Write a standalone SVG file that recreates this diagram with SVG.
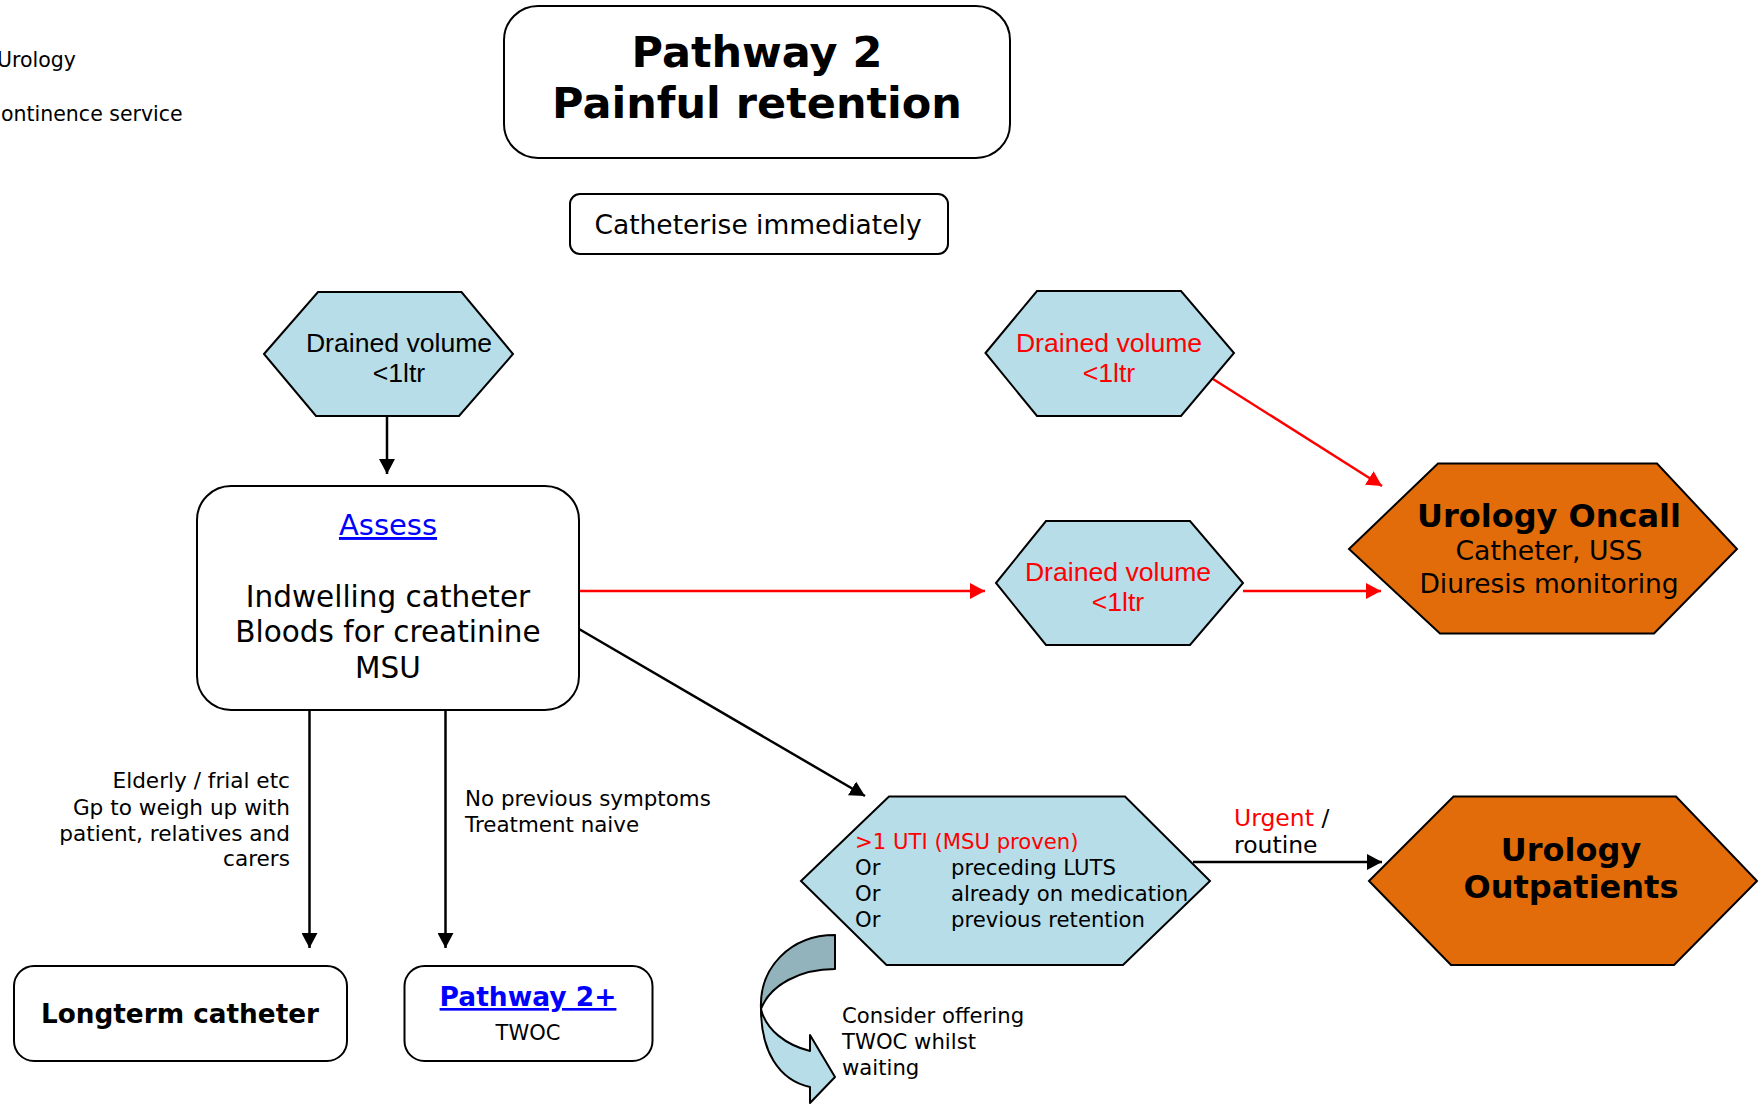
<svg xmlns="http://www.w3.org/2000/svg" width="1764" height="1104" viewBox="0 0 1764 1104">
  <style>
    .box { fill: #ffffff; stroke: #000000; stroke-width: 2; }
    .hex { fill: #B7DDE8; stroke: #000000; stroke-width: 2; stroke-linejoin: miter; }
    .hex-or { fill: #E36C0A; stroke: #000000; stroke-width: 2; }
    .v { font-family: "DejaVu Sans", Verdana, sans-serif; fill: #000000; }
    .a { font-family: "Liberation Sans", Arial, sans-serif; fill: #000000; }
    .b { font-weight: bold; }
    .red { fill: #FF0000; }
    .link { fill: #0000FF; text-decoration: underline; }
    .mid { text-anchor: middle; }
    .end { text-anchor: end; }
    .k { stroke: #000000; stroke-width: 2.5; fill: none; }
    .r { stroke: #FF0000; stroke-width: 2.5; fill: none; }
  </style>
  <defs>
    <marker id="ah-k" markerUnits="userSpaceOnUse" markerWidth="15" markerHeight="16" refX="15" refY="8" orient="auto">
      <path d="M0,0 L15,8 L0,16 Z" fill="#000000"/>
    </marker>
    <marker id="ah-r" markerUnits="userSpaceOnUse" markerWidth="15" markerHeight="16" refX="15" refY="8" orient="auto">
      <path d="M0,0 L15,8 L0,16 Z" fill="#FF0000"/>
    </marker>
  </defs>

  <rect width="1764" height="1104" fill="#ffffff"/>

  <!-- service labels at the left edge -->
  <g id="services">
    <text class="v" x="-3" y="67" font-size="20.5">Urology</text>
    <text class="v" x="1" y="121" font-size="20.5">ontinence service</text>
  </g>

  <!-- connectors -->
  <g id="connectors">
    <line class="k" x1="387" y1="416" x2="387" y2="474" marker-end="url(#ah-k)"/>
    <line class="r" x1="579" y1="591" x2="985" y2="591" marker-end="url(#ah-r)"/>
    <line class="r" x1="1213" y1="379" x2="1382" y2="486" marker-end="url(#ah-r)"/>
    <line class="r" x1="1243" y1="591" x2="1381" y2="591" marker-end="url(#ah-r)"/>
    <line class="k" x1="579" y1="629" x2="865" y2="796" marker-end="url(#ah-k)"/>
    <line class="k" x1="1193" y1="862" x2="1382" y2="862" marker-end="url(#ah-k)"/>
    <line class="k" x1="309.5" y1="710" x2="309.5" y2="948" marker-end="url(#ah-k)"/>
    <line class="k" x1="445.5" y1="710" x2="445.5" y2="948" marker-end="url(#ah-k)"/>
  </g>

  <!-- connector labels -->
  <g id="labels">
    <text class="v end" x="290" y="788" font-size="21.6">Elderly / frial etc</text>
    <text class="v end" x="290" y="814.5" font-size="21.6">Gp to weigh up with</text>
    <text class="v end" x="290" y="840.5" font-size="21.6">patient, relatives and</text>
    <text class="v end" x="290" y="866" font-size="21.6">carers</text>
    <text class="v" x="465" y="806" font-size="21.4">No previous symptoms</text>
    <text class="v" x="465" y="831.5" font-size="21.4">Treatment naive</text>
    <text class="v" x="1234" y="826" font-size="23.5"><tspan class="red">Urgent</tspan> /</text>
    <text class="v" x="1234" y="853" font-size="23.5">routine</text>
  </g>

  <g id="title">
    <rect class="box" x="504" y="6" width="506" height="152" rx="34" ry="34"/>
    <text class="v b mid" x="757" y="67" font-size="43">Pathway 2</text>
    <text class="v b mid" x="757" y="118" font-size="43">Painful retention</text>
  </g>

  <g id="catheterise">
    <rect class="box" x="570" y="194" width="378" height="60" rx="10" ry="10"/>
    <text class="v mid" x="758" y="234" font-size="26.5">Catheterise immediately</text>
  </g>

  <g id="drained-left">
    <polygon class="hex" points="264,354 318,292 461.5,292 513,354 459,416 316,416"/>
    <text class="a mid" x="399" y="352" font-size="26.6">Drained volume</text>
    <text class="a mid" x="399" y="382" font-size="26.6">&lt;1ltr</text>
  </g>

  <g id="assess">
    <rect class="box" x="197" y="486" width="382" height="224" rx="34" ry="34"/>
    <text class="v mid link" x="388" y="535" font-size="29">Assess</text>
    <text class="v mid" x="388" y="607" font-size="29.5">Indwelling catheter</text>
    <text class="v mid" x="388" y="642" font-size="29.5">Bloods for creatinine</text>
    <text class="v mid" x="388" y="678" font-size="29.5">MSU</text>
  </g>

  <g id="drained-upper">
    <polygon class="hex" points="985.5,353 1037,291 1181,291 1234,353 1181,416 1037,416"/>
    <text class="a mid red" x="1109" y="352" font-size="26.6">Drained volume</text>
    <text class="a mid red" x="1109" y="382" font-size="26.6">&lt;1ltr</text>
  </g>

  <g id="drained-middle">
    <polygon class="hex" points="996,583 1046,521 1190,521 1243,583 1190,645 1046,645"/>
    <text class="a mid red" x="1118" y="581" font-size="26.6">Drained volume</text>
    <text class="a mid red" x="1118" y="611" font-size="26.6">&lt;1ltr</text>
  </g>

  <g id="oncall">
    <polygon class="hex-or" points="1349,549 1438,463.5 1657,463.5 1737,549 1654,633.5 1440,633.5"/>
    <text class="v b mid" x="1549" y="527" font-size="32">Urology Oncall</text>
    <text class="v mid" x="1549" y="560" font-size="26.7">Catheter, USS</text>
    <text class="v mid" x="1549" y="593" font-size="26.5">Diuresis monitoring</text>
  </g>

  <g id="uti">
    <polygon class="hex" points="801,881 889,796.5 1125,796.5 1210,881 1123,965 886.5,965"/>
    <text class="v red" x="855" y="849" font-size="21.2">&gt;1 UTI (MSU proven)</text>
    <text class="v" x="855" y="875" font-size="21.2">Or</text>
    <text class="v" x="951" y="875" font-size="21.2">preceding LUTS</text>
    <text class="v" x="855" y="901" font-size="21.2">Or</text>
    <text class="v" x="951" y="901" font-size="21.2">already on medication</text>
    <text class="v" x="855" y="927" font-size="21.2">Or</text>
    <text class="v" x="951" y="927" font-size="21.2">previous retention</text>
  </g>

  <g id="outpatients">
    <polygon class="hex-or" points="1369,881 1453.5,796.5 1676,796.5 1757,881 1674,965 1451,965"/>
    <text class="v b mid" x="1571" y="861" font-size="32">Urology</text>
    <text class="v b mid" x="1571" y="898" font-size="32">Outpatients</text>
  </g>

  <g id="longterm">
    <rect class="box" x="14" y="966" width="333" height="95" rx="20" ry="20"/>
    <text class="v b mid" x="180" y="1023" font-size="26.3">Longterm catheter</text>
  </g>

  <g id="pathway2plus">
    <rect class="box" x="404.5" y="966" width="248" height="95" rx="20" ry="20"/>
    <text class="v b mid link" x="528" y="1006" font-size="26.5">Pathway 2+</text>
    <text class="v mid" x="528" y="1040" font-size="21">TWOC</text>
  </g>

  <!-- curved arrow: consider TWOC whilst waiting -->
  <g id="twoc-waiting">
    <path d="M761,1009 C761,1050 778,1080 810,1087 L810,1103 L835,1077 L810,1035 L810,1051 C786,1045 766,1030 761,1009 Z" fill="#B7DDE8" stroke="#000000" stroke-width="2" stroke-linejoin="round"/>
    <path d="M835,935 L835,969 C800,969 770,985 761,1009 C759,968 790,935 835,935 Z" fill="#93B3BC" stroke="#000000" stroke-width="2" stroke-linejoin="round"/>
    <text class="v" x="842" y="1023" font-size="21.2">Consider offering</text>
    <text class="v" x="842" y="1049" font-size="21.2">TWOC whilst</text>
    <text class="v" x="842" y="1075" font-size="21.2">waiting</text>
  </g>
</svg>
